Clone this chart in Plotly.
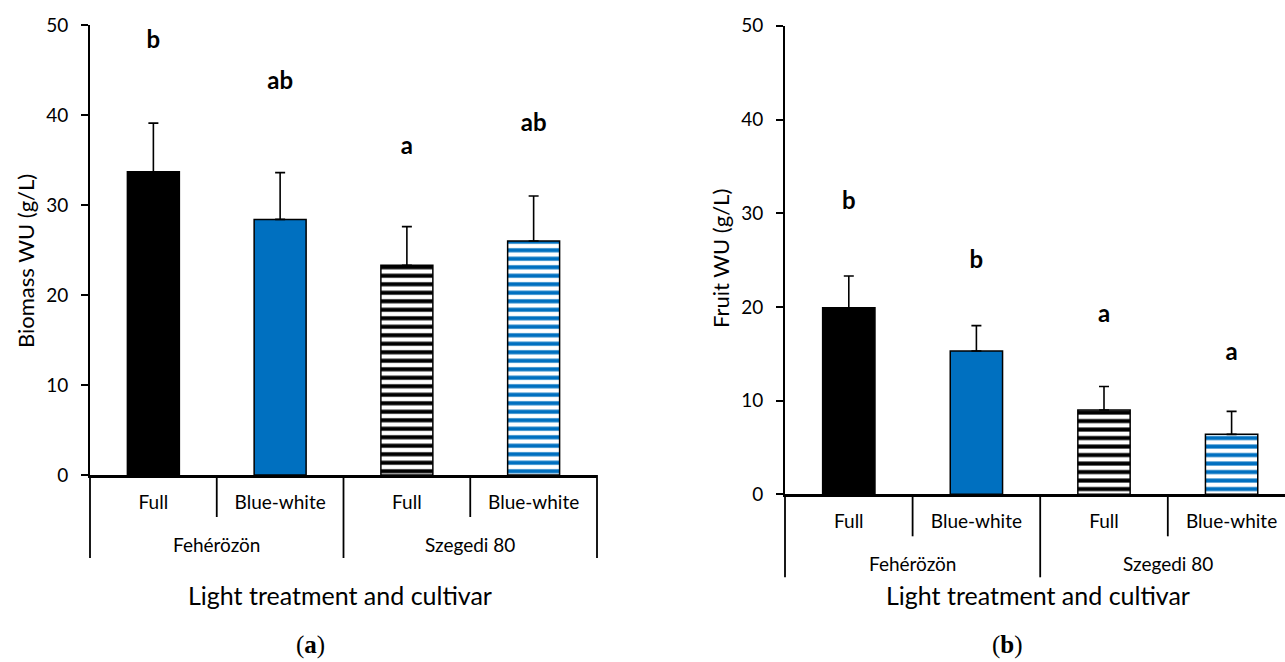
import plotly.graph_objects as go

# ---------------- data ----------------
cultivars = ["Fehérözön", "Szegedi 80"]
treatments = ["Full", "Blue-white"]
y_ticks = [0, 10, 20, 30, 40, 50]

biomass = [33.7, 28.4, 23.3, 26.0]
biomass_err = [5.4, 5.2, 4.3, 5.0]
biomass_letters = ["b", "ab", "a", "ab"]
biomass_letter_y = [48.1, 43.6, 36.3, 38.9]

fruit = [19.9, 15.3, 9.0, 6.4]
fruit_err = [3.4, 2.7, 2.5, 2.45]
fruit_letters = ["b", "b", "a", "a"]
fruit_letter_y = [31.1, 24.8, 19.0, 15.0]

# ---------------- styling ----------------
W, H = 1285, 662
FONT = "Lato"
BLUE = "#0070C0"
treat_color = {"Full": "black", "Blue-white": BLUE}
cult_pattern = {"Fehérözön": "", "Szegedi 80": "-"}

bar_color = [treat_color[t] for c in cultivars for t in treatments]
pat_shape = [cult_pattern[c] for c in cultivars for t in treatments]

n_bars = len(cultivars) * len(treatments)
xpos = list(range(n_bars))
tick_text = [t for c in cultivars for t in treatments]


def px_x(p):
    return p / W


def px_y(p):
    return (H - p) / H


fig = go.Figure()


def add_panel(vals, errs, letters, letter_y, xa, ya):
    fig.add_trace(go.Bar(
        x=xpos, y=vals, width=0.41,
        marker=dict(color=bar_color, line=dict(color="black", width=1.5),
                    pattern=dict(shape=pat_shape, size=8.5, solidity=0.48,
                                 fillmode="replace")),
        error_y=dict(type="data", array=errs, symmetric=False,
                     arrayminus=[0] * len(errs), color="black",
                     thickness=1.6, width=5),
        xaxis=xa, yaxis=ya, showlegend=False,
    ))
    fig.add_trace(go.Scatter(
        x=xpos, y=letter_y, mode="text", text=letters,
        textfont=dict(family=FONT, size=24, color="black", weight="bold"),
        xaxis=xa, yaxis=ya, showlegend=False, hoverinfo="skip",
    ))


add_panel(biomass, biomass_err, biomass_letters, biomass_letter_y, "x", "y")
add_panel(fruit, fruit_err, fruit_letters, fruit_letter_y, "x2", "y2")

panels = [
    dict(xa="x", ya="y", x0=90, x1=597, ybot=475, ytop=25, rend=3.5,
         ytitle="Biomass WU (g/L)", ytitle_x=25, ytitle_y=261,
         xtitle_x=340, xtitle_y=595, tag="(<b>a</b>)", tag_x=310),
    dict(xa="x2", ya="y2", x0=785, x1=1285, ybot=494.3, ytop=25.8,
         rend=-0.5 + 500 / 127.6,
         ytitle="Fruit WU (g/L)", ytitle_x=720, ytitle_y=259,
         xtitle_x=1038, xtitle_y=595, tag="(<b>b</b>)", tag_x=1007),
]

layout = dict(
    width=W, height=H, margin=dict(l=0, r=0, t=0, b=0, autoexpand=False),
    paper_bgcolor="white", plot_bgcolor="white", barmode="overlay",
)
shapes = []
annotations = []

for i, p in enumerate(panels):
    sfx = "" if i == 0 else "2"
    layout["xaxis" + sfx] = dict(
        domain=[px_x(p["x0"]), px_x(p["x1"])], range=[-0.5, p["rend"]],
        anchor="y" + sfx, tickmode="array", tickvals=xpos, ticktext=tick_text,
        ticks="", showline=True, linecolor="black", linewidth=2.5,
        showgrid=False, zeroline=False, ticklabelstandoff=8, automargin=False,
        tickfont=dict(family=FONT, size=19, color="black"),
    )
    layout["yaxis" + sfx] = dict(
        domain=[px_y(p["ybot"]), px_y(p["ytop"])], range=[0, 50],
        anchor="x" + sfx, tickmode="array", tickvals=y_ticks,
        ticks="outside", ticklen=7, tickwidth=2, tickcolor="black",
        showline=True, linecolor="black", linewidth=2, automargin=False,
        showgrid=False, zeroline=False, ticklabelstandoff=9,
        tickfont=dict(family=FONT, size=19, color="black"),
    )
    # category dividers
    for b in range(n_bars + 1):
        xb = b - 0.5
        outer = (b % len(treatments) == 0)
        depth = 83 if outer else 42
        if b == 0:
            xr, xv = p["xa"] + " domain", 0
        elif b == n_bars and i == 0:
            xr, xv = p["xa"] + " domain", 1
        else:
            xr, xv = p["xa"], xb
        shapes.append(dict(type="line", xref=xr, yref="paper", x0=xv, x1=xv,
                           y0=px_y(p["ybot"]), y1=px_y(p["ybot"] + depth),
                           line=dict(color="black", width=1.8)))
    # outer group labels
    for gi, c in enumerate(cultivars):
        cx = gi * len(treatments) + (len(treatments) - 1) / 2
        annotations.append(dict(text=c, xref=p["xa"], yref="paper", x=cx,
                                y=px_y(p["ybot"] + 69), showarrow=False,
                                xanchor="center", yanchor="middle",
                                font=dict(family=FONT, size=19, color="black")))
    annotations.append(dict(text="Light treatment and cultivar", xref="paper",
                            yref="paper", x=px_x(p["xtitle_x"]),
                            y=px_y(p["xtitle_y"]), showarrow=False,
                            xanchor="center", yanchor="middle",
                            font=dict(family=FONT, size=25, color="black")))
    annotations.append(dict(text=p["ytitle"], xref="paper", yref="paper",
                            x=px_x(p["ytitle_x"]), y=px_y(p["ytitle_y"]),
                            textangle=-90, showarrow=False,
                            xanchor="center", yanchor="middle",
                            font=dict(family=FONT, size=22, color="black")))
    annotations.append(dict(text=p["tag"], xref="paper", yref="paper",
                            x=px_x(p["tag_x"]), y=px_y(661), showarrow=False,
                            xanchor="center", yanchor="bottom",
                            font=dict(family="Liberation Serif", size=25,
                                      color="black")))

layout["shapes"] = shapes
layout["annotations"] = annotations
fig.update_layout(**layout)
fig.write_html("out.html")
